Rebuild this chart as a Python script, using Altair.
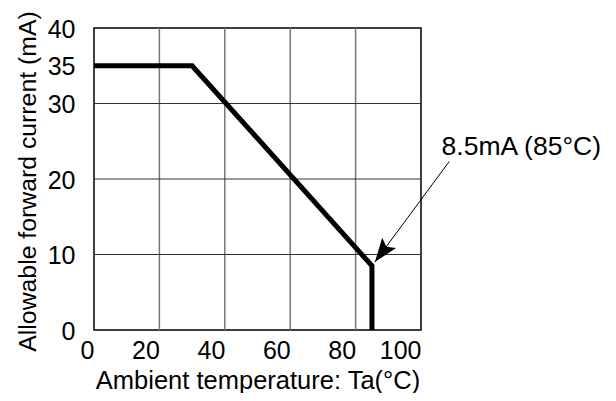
import altair as alt
import pandas as pd

# Curve data
curve_x = [0, 30, 85, 85]
curve_y = [35, 35, 8.5, 0]

# Grid lines
grid_x = [20, 40, 60, 80]
grid_y = [10, 20, 30]

# Tick labels
x_ticks = [0, 20, 40, 60, 80, 100]
y_ticks = [0, 10, 20, 30, 35, 40]

# Annotation
ann_text = ["8.5mA (85°C)"]
ann_text_x = [106.3]
ann_text_y = [23.2]
arrow_start_x = [108.6]
arrow_start_y = [22.3]
arrow_tip_x = [85.9]
arrow_tip_y = [9.0]

FONT = "Liberation Sans"

xs = alt.Scale(domain=[0, 100], nice=False, zero=False)
ys = alt.Scale(domain=[0, 40], nice=False, zero=False)

curve_df = pd.DataFrame({"x": curve_x, "y": curve_y, "o": list(range(len(curve_x)))})
gx_df = pd.DataFrame({"x": grid_x})
gy_df = pd.DataFrame({"y": grid_y})
text_df = pd.DataFrame({"x": ann_text_x, "y": ann_text_y, "t": ann_text})
arrow_df = pd.DataFrame({"x": arrow_start_x, "y": arrow_start_y,
                         "x2": arrow_tip_x, "y2": arrow_tip_y})
head_df = pd.DataFrame({"x": arrow_tip_x, "y": arrow_tip_y})

x_axis = alt.Axis(values=x_ticks, grid=False, ticks=False, domain=False,
                  labelAlign="right", labelBaseline="top", labelPadding=8,
                  labelFont=FONT, labelFontSize=25, labelColor="black",
                  labelExpr="datum.value == 0 ? '0\u00a0' : datum.label",
                  labelFlush=False, labelOverlap=False,
                  title="Ambient temperature: Ta(°C)", titleFont=FONT,
                  titleFontSize=25.5, titleFontWeight="normal", titleColor="black",
                  titleBaseline="alphabetic", titleY=58)
y_axis = alt.Axis(values=y_ticks, grid=False, ticks=False, domain=False,
                  labelAlign="right", labelBaseline="middle", labelPadding=19,
                  labelFont=FONT, labelFontSize=25, labelColor="black",
                  labelFlush=False, labelOverlap=False, labelOffset=1,
                  title="Allowable forward current (mA)", titleFont=FONT,
                  titleFontSize=24.8, titleFontWeight="normal", titleColor="black",
                  titleBaseline="alphabetic", titleX=-59, titleY=153, titleAngle=270)

X = alt.X("x:Q", scale=xs, axis=x_axis)
Y = alt.Y("y:Q", scale=ys, axis=y_axis)

vgrid = alt.Chart(gx_df).mark_rule(color="#777777", strokeWidth=1.5).encode(x=X)
hgrid = alt.Chart(gy_df).mark_rule(color="#333333", strokeWidth=1).encode(y=Y)

line = alt.Chart(curve_df).mark_line(color="black", strokeWidth=5,
                                     strokeJoin="miter", strokeCap="butt").encode(
    x=X, y=Y, order="o:Q")

arrow = alt.Chart(arrow_df).mark_rule(color="black", strokeWidth=1).encode(
    x=X, y=Y, x2="x2:Q", y2="y2:Q")

head = alt.Chart(head_df).mark_point(
    shape="M0,0 L0.36,1 L0,0.8 L-0.36,1 Z", filled=True, color="black",
    opacity=1, size=2300, angle=216.5, strokeWidth=0).encode(x=X, y=Y)

text = alt.Chart(text_df).mark_text(align="left", baseline="alphabetic",
                                    font=FONT, fontSize=26.5, color="black").encode(
    x=X, y=Y, text="t:N")

chart = alt.layer(vgrid, hgrid, line, arrow, head, text).properties(
    width=327, height=302,
    autosize=alt.AutoSizeParams(type="none"),
    padding={"left": 86, "top": 20, "right": 187, "bottom": 63},
    background="white",
).configure_view(stroke="black", strokeWidth=1.5)

chart.save("out.html", embed_options={"renderer": "svg", "actions": False})
